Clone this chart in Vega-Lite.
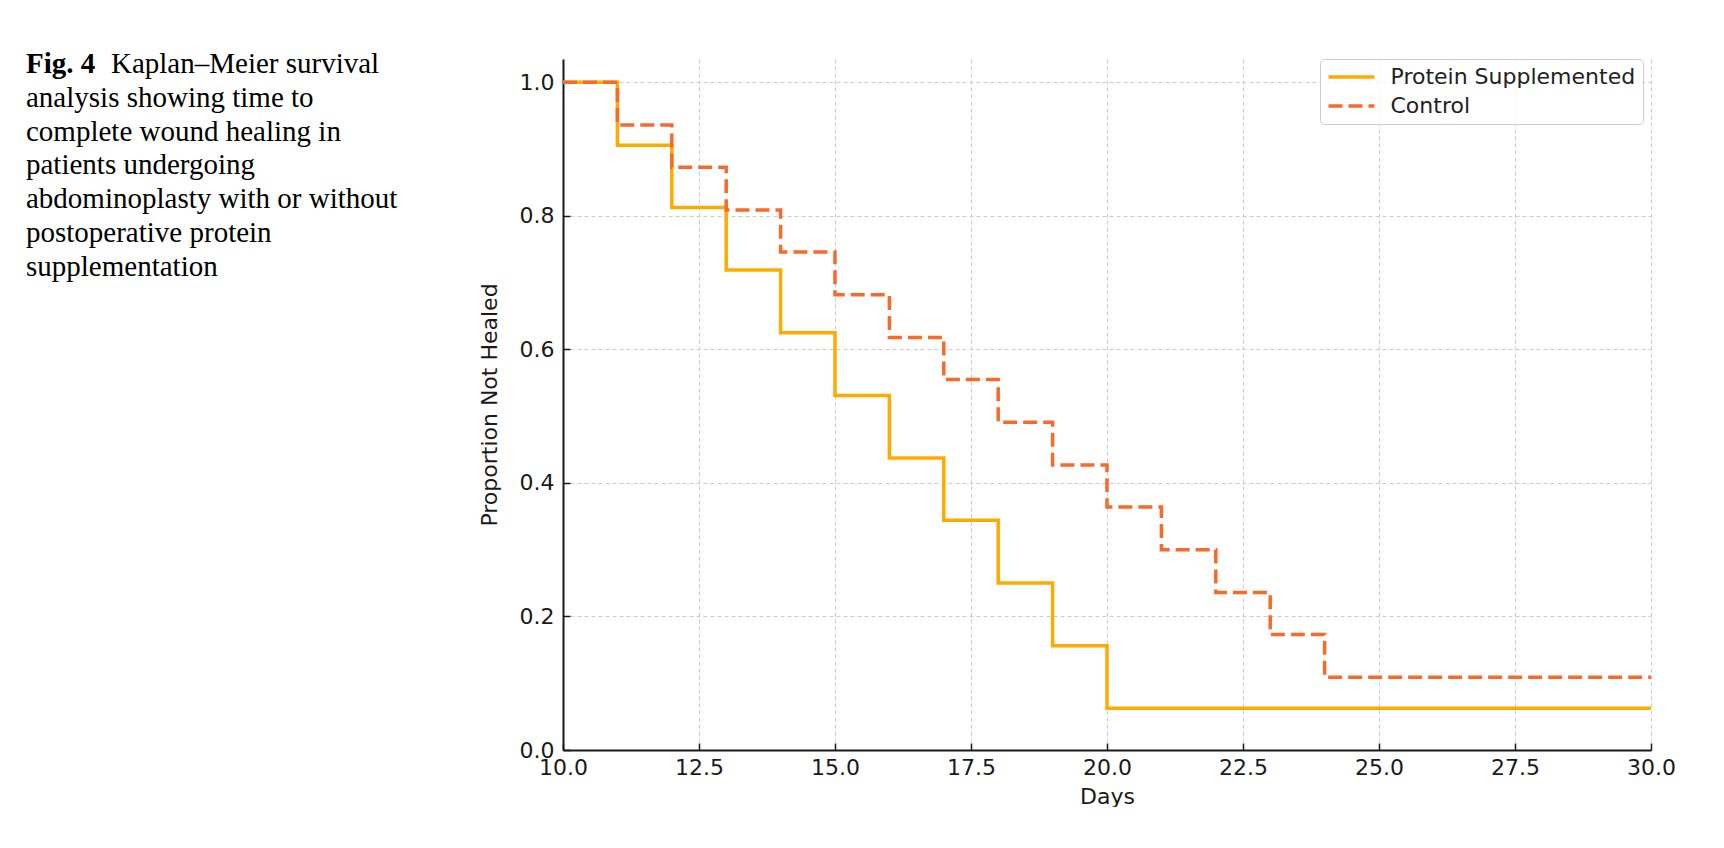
{
  "$schema": "https://vega.github.io/schema/vega-lite/v6.json",
  "background": "white",
  "padding": {"left": 0, "top": 50, "right": 0, "bottom": 0},
  "datasets": {
    "caption": [
      {"line": 0, "part": "label", "text": "Fig. 4"},
      {"line": 0, "part": "first", "text": "Kaplan–Meier survival"},
      {"line": 1, "part": "body", "text": "analysis showing time to"},
      {"line": 2, "part": "body", "text": "complete wound healing in"},
      {"line": 3, "part": "body", "text": "patients undergoing"},
      {"line": 4, "part": "body", "text": "abdominoplasty with or without"},
      {"line": 5, "part": "body", "text": "postoperative protein"},
      {"line": 6, "part": "body", "text": "supplementation"}
    ],
    "km": [
      {"group": "Protein Supplemented", "day": 10, "prop": 1.0},
      {"group": "Protein Supplemented", "day": 11, "prop": 0.906},
      {"group": "Protein Supplemented", "day": 12, "prop": 0.8125},
      {"group": "Protein Supplemented", "day": 13, "prop": 0.719},
      {"group": "Protein Supplemented", "day": 14, "prop": 0.625},
      {"group": "Protein Supplemented", "day": 15, "prop": 0.531},
      {"group": "Protein Supplemented", "day": 16, "prop": 0.4375},
      {"group": "Protein Supplemented", "day": 17, "prop": 0.344},
      {"group": "Protein Supplemented", "day": 18, "prop": 0.25},
      {"group": "Protein Supplemented", "day": 19, "prop": 0.156},
      {"group": "Protein Supplemented", "day": 20, "prop": 0.0625},
      {"group": "Protein Supplemented", "day": 30, "prop": 0.0625},
      {"group": "Control", "day": 10, "prop": 1.0},
      {"group": "Control", "day": 11, "prop": 0.936},
      {"group": "Control", "day": 12, "prop": 0.873},
      {"group": "Control", "day": 13, "prop": 0.809},
      {"group": "Control", "day": 14, "prop": 0.746},
      {"group": "Control", "day": 15, "prop": 0.682},
      {"group": "Control", "day": 16, "prop": 0.618},
      {"group": "Control", "day": 17, "prop": 0.555},
      {"group": "Control", "day": 18, "prop": 0.491},
      {"group": "Control", "day": 19, "prop": 0.427},
      {"group": "Control", "day": 20, "prop": 0.364},
      {"group": "Control", "day": 21, "prop": 0.3},
      {"group": "Control", "day": 22, "prop": 0.236},
      {"group": "Control", "day": 23, "prop": 0.173},
      {"group": "Control", "day": 24, "prop": 0.109},
      {"group": "Control", "day": 30, "prop": 0.109}
    ]
  },
  "spacing": 20,
  "hconcat": [
    {
      "width": 458,
      "height": 691,
      "data": {"name": "caption"},
      "encoding": {
        "x": {"datum": 0, "type": "quantitative", "scale": {"domain": [0, 1]}, "axis": null},
        "y": {"field": "line", "type": "quantitative", "scale": {"domain": [20.44, 0]}, "axis": null},
        "text": {"field": "text"}
      },
      "layer": [
        {
          "transform": [{"filter": "datum.part === 'label'"}],
          "mark": {"type": "text", "font": "Liberation Serif", "fontSize": 29, "fontWeight": "bold", "align": "left", "baseline": "alphabetic", "dx": 26, "dy": 14, "color": "#000000"}
        },
        {
          "transform": [{"filter": "datum.part === 'first'"}],
          "mark": {"type": "text", "font": "Liberation Serif", "fontSize": 29, "align": "left", "baseline": "alphabetic", "dx": 111, "dy": 14, "color": "#000000"}
        },
        {
          "transform": [{"filter": "datum.part === 'body'"}],
          "mark": {"type": "text", "font": "Liberation Serif", "fontSize": 29, "align": "left", "baseline": "alphabetic", "dx": 26, "dy": 14, "color": "#000000"}
        }
      ]
    },
    {
      "width": 1088,
      "height": 691,
      "data": {"name": "km"},
      "encoding": {
        "x": {
          "field": "day",
          "type": "quantitative",
          "scale": {"domain": [10, 30], "nice": false, "zero": false},
          "axis": {
            "title": "Days",
            "values": [10, 12.5, 15, 17.5, 20, 22.5, 25, 27.5, 30],
            "format": ".1f",
            "tickSize": -7,
            "labelPadding": 14,
            "titlePadding": 8
          }
        },
        "y": {
          "field": "prop",
          "type": "quantitative",
          "scale": {"domain": [0, 1.035], "nice": false},
          "axis": {
            "title": "Proportion Not Healed",
            "values": [0, 0.2, 0.4, 0.6, 0.8, 1.0],
            "format": ".1f",
            "tickSize": -7,
            "labelPadding": 16,
            "titlePadding": 18
          }
        },
        "color": {
          "field": "group",
          "type": "nominal",
          "scale": {"domain": ["Protein Supplemented", "Control"], "range": ["#FFAA00", "#F76A2B"]},
          "legend": {"title": null}
        },
        "strokeDash": {
          "field": "group",
          "type": "nominal",
          "scale": {"domain": ["Protein Supplemented", "Control"], "range": [[1, 0], [14, 6]]},
          "legend": {"title": null}
        }
      },
      "layer": [
        {
          "transform": [{"filter": "datum.group === 'Protein Supplemented'"}],
          "mark": {"type": "line", "interpolate": "step-after", "strokeWidth": 3.5}
        },
        {
          "transform": [{"filter": "datum.group === 'Control'"}],
          "mark": {"type": "line", "interpolate": "step-after", "strokeWidth": 3.5}
        }
      ]
    }
  ],
  "config": {
    "view": {"stroke": null},
    "axis": {
      "domainColor": "#1a1a1a",
      "domainWidth": 2,
      "tickColor": "#1a1a1a",
      "tickWidth": 1.5,
      "labelFont": "DejaVu Sans",
      "labelFontSize": 22,
      "labelColor": "#1a1a1a",
      "labelFlush": false,
      "labelOverlap": false,
      "titleFont": "DejaVu Sans",
      "titleFontSize": 22,
      "titleFontWeight": "normal",
      "titleColor": "#1a1a1a",
      "grid": true,
      "gridColor": "#cccccc",
      "gridDash": [4, 3],
      "gridWidth": 1
    },
    "legend": {
      "orient": "none",
      "legendX": 1320,
      "legendY": 0,
      "padding": 7,
      "rowPadding": 7,
      "fillColor": "rgba(255,255,255,0.8)",
      "strokeColor": "#cccccc",
      "cornerRadius": 4,
      "symbolType": "M-3,0H3",
      "symbolSize": 235,
      "symbolStrokeWidth": 3.5,
      "symbolOffset": 13.5,
      "labelFont": "DejaVu Sans",
      "labelFontSize": 22,
      "labelColor": "#222222",
      "labelOffset": 28,
      "labelLimit": 400
    }
  }
}
